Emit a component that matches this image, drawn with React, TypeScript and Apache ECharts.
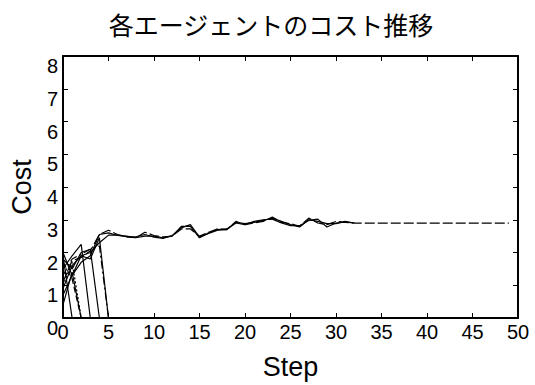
import React, { useEffect, useRef } from "react";
import * as echarts from "echarts";

const TITLE = "各エージェントのコスト推移";
const X_NAME = "Step";
const Y_NAME = "Cost";

// agents that converge (index = step)
const agentA = [0.9, 1.6, 1.9, 2.0, 2.3, 2.53, 2.53, 2.5, 2.45, 2.5, 2.5, 2.45, 2.5, 2.8, 2.8, 2.45, 2.6, 2.7, 2.72, 2.92, 2.88, 2.92, 2.98, 3.05, 2.95, 2.85, 2.78, 3.0, 2.95, 2.88, 2.88, 2.95, 2.9];
const agentBHead = [1.1, 1.75, 1.85, 2.05, 2.55, 2.68, 2.55, 2.48, 2.45, 2.62, 2.52, 2.48, 2.5, 2.72, 2.72, 2.5, 2.62, 2.72, 2.7, 2.95, 2.85, 2.9, 2.95, 3.08, 2.92, 2.88, 2.8, 3.05, 2.9, 2.85, 2.95, 2.92, 2.9];
const agentBTail = [2.9, 2.9, 2.9, 2.9, 2.9, 2.9, 2.9, 2.9, 2.9, 2.9, 2.9, 2.9, 2.9, 2.9, 2.9, 2.9, 2.9];
const agentC = [0.7, 1.3, 1.7, 1.9, 2.55, 2.6, 2.52, 2.48, 2.48, 2.55, 2.47, 2.43, 2.52, 2.75, 2.85, 2.47, 2.58, 2.68, 2.7, 2.9, 2.85, 2.95, 3.0, 3.02, 2.9, 2.82, 2.82, 2.98, 3.02, 2.78, 2.9, 2.93, 2.9];

// agents that drop out early
const agentD = [1.9, 0];
const agentE = [1.7, 1.2, 0];
const agentF = [1.5, 1.9, 2.25, 0];
const agentG = [1.3, 1.8, 1.95, 2.1, 2.2, 0];
const agentH = [1.8, 1.5, 2.0, 2.1, 0];
const agentI = [1.0, 1.7, 0];
const agentJ = [2.0, 1.3, 1.9, 1.8, 2.45, 0];
const agentK = [0.4, 1.4, 0];

const X_MIN = 0, X_MAX = 50, X_INT = 5;
const Y_MIN = 0, Y_MAX = 8, Y_INT = 1;

const toPairs = (arr: number[]) => arr.map((v, i) => [i, v]);

export default function App() {
  const ref = useRef<HTMLDivElement>(null);
  useEffect(() => {
    document.body.style.margin = "0";
    if (!ref.current) return;
    const chart = echarts.init(ref.current, null, { renderer: "svg" });
    const font = "'Liberation Sans', Arial, sans-serif";
    const agentB = agentBHead.concat(agentBTail);
    const lines: { d: number[]; t: any }[] = [
      { d: agentA, t: "solid" },
      { d: agentB, t: [10, 3] },
      { d: agentC, t: "solid" },
      { d: agentD, t: "solid" },
      { d: agentE, t: [6, 3] },
      { d: agentF, t: "solid" },
      { d: agentG, t: [8, 3, 2, 3] },
      { d: agentH, t: "solid" },
      { d: agentI, t: [2, 2] },
      { d: agentJ, t: "solid" },
      { d: agentK, t: "solid" },
    ];
    const axisLine = { show: true, onZero: false, lineStyle: { color: "#000", width: 2 } };
    const tick = { show: true, inside: true, length: 5, lineStyle: { color: "#000", width: 1 } };
    chart.setOption({
      animation: false,
      backgroundColor: "#fff",
      title: {
        text: TITLE,
        left: 266,
        top: 6,
        textAlign: "center",
        textStyle: { fontFamily: "'Noto Sans CJK JP', sans-serif", fontSize: 25, fontWeight: "normal", color: "#000" },
      },
      grid: { left: 62, right: 17, top: 56, bottom: 62, containLabel: false },
      xAxis: [
        {
          type: "value", min: X_MIN, max: X_MAX, interval: X_INT, position: "bottom",
          name: X_NAME, nameLocation: "middle", nameGap: 35,
          nameTextStyle: { fontFamily: font, fontSize: 27, color: "#000" },
          axisLine, axisTick: tick, splitLine: { show: false },
          axisLabel: { fontFamily: font, fontSize: 20, color: "#000", margin: 4 },
        },
        {
          type: "value", min: X_MIN, max: X_MAX, interval: X_INT, position: "top",
          axisLine, axisTick: tick, splitLine: { show: false }, axisLabel: { show: false },
        },
      ],
      yAxis: [
        {
          type: "value", min: Y_MIN, max: Y_MAX, interval: Y_INT, position: "left",
          name: Y_NAME, nameLocation: "middle", nameGap: 28,
          nameTextStyle: { fontFamily: font, fontSize: 27, color: "#000" },
          axisLine, axisTick: tick, splitLine: { show: false },
          axisLabel: { fontFamily: font, fontSize: 20, color: "#000", margin: 5, verticalAlign: "top" },
        },
        {
          type: "value", min: Y_MIN, max: Y_MAX, interval: Y_INT, position: "right",
          axisLine, axisTick: tick, splitLine: { show: false }, axisLabel: { show: false },
        },
      ],
      series: lines.map((l) => ({
        type: "line",
        data: toPairs(l.d),
        xAxisIndex: 0,
        yAxisIndex: 0,
        symbol: "none",
        lineStyle: { color: "#000", width: 1.2, type: l.t },
        silent: true,
      })),
    });
    return () => chart.dispose();
  }, []);
  return <div ref={ref} style={{ width: 535, height: 385 }} />;
}
